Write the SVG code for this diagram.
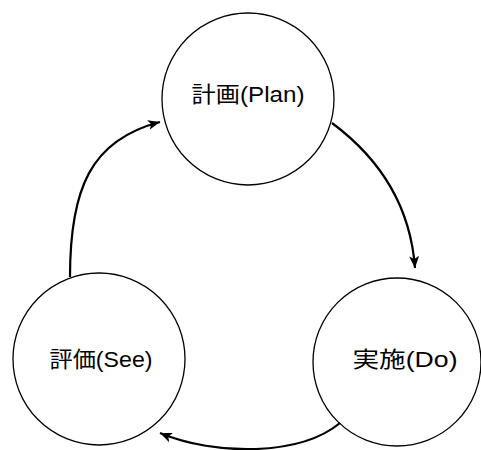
<svg xmlns="http://www.w3.org/2000/svg" width="481" height="450" viewBox="0 0 481 450">
<style>
.node circle{fill:none;stroke:#000;stroke-width:1.3}
.node text{font-family:"Liberation Sans","Noto Sans CJK JP",sans-serif;font-size:22px;fill:#000;text-anchor:middle}
.conn path{fill:none;stroke:#000;stroke-width:2.2}
</style>
<defs>
<marker id="ah" markerUnits="userSpaceOnUse" markerWidth="14" markerHeight="12" refX="12" refY="5" orient="auto">
<path d="M0,0 L12,5 L0,10 L3,5 z" fill="#000"/>
</marker>
</defs>
<rect width="481" height="450" fill="#fff"/>
<g id="plan" class="node">
<circle cx="248" cy="99" r="86"/>
<text x="248" y="102" textLength="113" lengthAdjust="spacingAndGlyphs">計画(Plan)</text>
</g>
<g id="do" class="node">
<circle cx="397" cy="362" r="84"/>
<text x="405" y="367" textLength="105" lengthAdjust="spacingAndGlyphs">実施(Do)</text>
</g>
<g id="see" class="node">
<circle cx="99" cy="359" r="86"/>
<text x="101" y="367" textLength="103" lengthAdjust="spacingAndGlyphs">評価(See)</text>
</g>
<g id="connectors" class="conn">
<path d="M332,123 C375,155 410,200 415,268" marker-end="url(#ah)"/>
<path d="M340,423 C300,456 215,456 160,433" marker-end="url(#ah)"/>
<path d="M70,277 C70,190 90,140 160,122" marker-end="url(#ah)"/>
</g>
</svg>
